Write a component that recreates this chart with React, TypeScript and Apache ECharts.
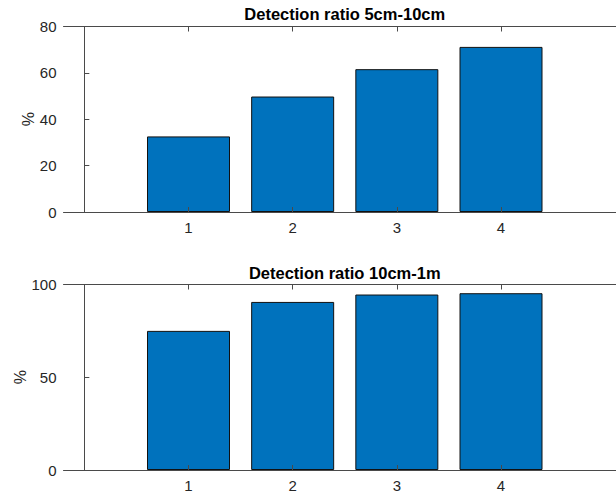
import React, { useEffect, useRef } from "react";
import * as echarts from "echarts";

const categories = [1, 2, 3, 4];
const ratio5to10 = [32.6, 49.8, 61.6, 71.2];
const ratio10to1m = [75.0, 90.6, 94.6, 95.3];
const topTicks = [0, 20, 40, 60, 80];
const bottomTicks = [0, 50, 100];
const titles = ["Detection ratio 5cm-10cm", "Detection ratio 10cm-1m"];

const FONT = "'Liberation Sans', Arial, Helvetica, sans-serif";
const AX = "#262626";
const LINE = "#4a4a4a";
const GRID_LEFT = 63.5;
const GRID_W = 562.5;

export default function App() {
  const ref = useRef<HTMLDivElement>(null);
  useEffect(() => {
    if (!ref.current) return;
    const chart = echarts.init(ref.current, null, { renderer: "svg" });
    const grids = [
      { left: GRID_LEFT, top: 26.5, width: GRID_W, height: 185.5, containLabel: false, outerBoundsMode: "none" },
      { left: GRID_LEFT, top: 284.5, width: GRID_W, height: 185.5, containLabel: false, outerBoundsMode: "none" },
    ];
    const mkX = (gi: number, pos: "bottom" | "top") => ({
      type: "value",
      gridIndex: gi,
      position: pos,
      min: -0.2,
      max: 5.2,
      z: 10,
      axisLine: { show: true, onZero: false, lineStyle: { color: LINE, width: 1 } },
      axisTick: { show: true, inside: true, length: 5, customValues: categories, lineStyle: { color: LINE } },
      axisLabel: {
        show: pos === "bottom",
        customValues: categories,
        margin: 8,
        color: AX,
        fontSize: 15,
        fontFamily: FONT,
      },
      splitLine: { show: false },
    });
    const mkY = (gi: number, ticks: number[], gap: number) => ({
      type: "value",
      gridIndex: gi,
      min: ticks[0],
      max: ticks[ticks.length - 1],
      interval: ticks[1] - ticks[0],
      z: 10,
      name: "%",
      nameLocation: "middle",
      nameGap: gap,
      nameMoveOverlap: false,
      nameTextStyle: { color: AX, fontSize: 16, fontFamily: FONT },
      axisLine: { show: true, lineStyle: { color: LINE, width: 1 } },
      axisTick: { show: true, inside: true, length: 5, lineStyle: { color: LINE } },
      axisLabel: { margin: 7, color: AX, fontSize: 15, fontFamily: FONT },
      splitLine: { show: false },
    });
    const barStyle = { color: "#0072BD", borderColor: "#111111", borderWidth: 1 };
    chart.setOption({
      animation: false,
      backgroundColor: "#ffffff",
      grid: grids,
      xAxis: [mkX(0, "bottom"), mkX(0, "top"), mkX(1, "bottom"), mkX(1, "top")],
      yAxis: [mkY(0, topTicks, 27.5), mkY(1, bottomTicks, 35.5)],
      graphic: [
        {
          type: "text",
          x: GRID_LEFT + GRID_W / 2,
          y: 14,
          style: { text: titles[0], align: "center", verticalAlign: "middle", font: `bold 16.5px ${FONT}`, fill: "#000" },
        },
        {
          type: "text",
          x: GRID_LEFT + GRID_W / 2,
          y: 272.7,
          style: { text: titles[1], align: "center", verticalAlign: "middle", font: `bold 16.5px ${FONT}`, fill: "#000" },
        },
      ],
      series: [
        {
          type: "bar",
          xAxisIndex: 0,
          yAxisIndex: 0,
          barWidth: 83,
          itemStyle: barStyle,
          data: categories.map((c, i) => [c, ratio5to10[i]]),
        },
        {
          type: "bar",
          xAxisIndex: 2,
          yAxisIndex: 1,
          barWidth: 83,
          itemStyle: barStyle,
          data: categories.map((c, i) => [c, ratio10to1m[i]]),
        },
      ],
    });
    return () => chart.dispose();
  }, []);
  return (
    <div
      ref={ref}
      style={{ position: "fixed", left: 0, top: 0, width: 616, height: 496, background: "#fff" }}
    />
  );
}
